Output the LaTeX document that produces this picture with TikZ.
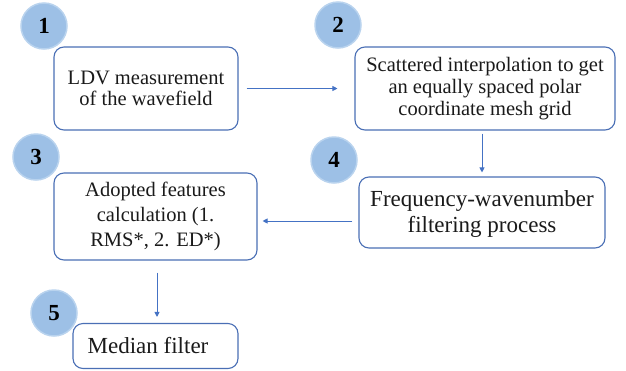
\documentclass[tikz,border=0pt]{standalone}
\usepackage{fontspec}
\setmainfont{Liberation Serif}
\usetikzlibrary{arrows.meta,calc}
\definecolor{boxline}{HTML}{4A6FB5}
\definecolor{arrowc}{HTML}{4472C4}
\definecolor{ballc}{HTML}{9DC0E6}
\definecolor{ballrim}{HTML}{B9D3EE}
\definecolor{txt}{HTML}{1A1A1A}
\begin{document}
\begin{tikzpicture}[x=1pt,y=-1pt,
  stepbox/.style={draw=boxline,line width=1.1pt,rounded corners=10pt,fill=white,
    align=center,inner sep=0pt,text=txt,font=\fontsize{20.5pt}{21.7pt}\selectfont},
  bigtext/.style={font=\fontsize{23pt}{26.5pt}\selectfont},
  numball/.style={circle,minimum size=46pt,inner sep=0pt,fill=ballc,draw=ballrim,line width=1.5pt,
    text=black,font=\fontsize{23pt}{23pt}\selectfont\bfseries},
  conn/.style={draw=arrowc,line width=0.9pt,-{Triangle[length=5pt,width=5pt]}}]
\useasboundingbox (0,0) rectangle (626,370);
\node[stepbox,minimum width=184pt,minimum height=83pt] (b1) at (146,88.5) {LDV measurement\\of the wavefield};
\node[stepbox,minimum width=260pt,minimum height=83pt] (b2) at (485,88.5) {Scattered interpolation to get\\an equally spaced polar\\coordinate mesh grid};
\node[stepbox,bigtext,minimum width=246pt,minimum height=71pt] (b4) at (482,212.5) {\rule{0pt}{0pt}\\[-8pt]Frequency-wavenumber\\filtering process};
\node[stepbox,font=\fontsize{20.5pt}{25pt}\selectfont,minimum width=203pt,minimum height=87pt] (b3) at (155.5,216.5) {Adopted features\\calculation (1.\\RMS*, 2. ED*)};
\node[stepbox,bigtext,minimum width=165pt,minimum height=45pt] (b5) at (155.5,346) {\hspace*{-15pt}Median filter};
\node[numball] (c1) at (44,26) {1};
\node[numball] (c2) at (338,25) {2};
\node[numball] (c3) at (36,157) {3};
\node[numball] (c4) at (334,160) {4};
\node[numball] (c5) at (54,313) {5};
\coordinate (a1s) at ($(b1.east)+(8,0)$);
\coordinate (a1e) at ($(b2.west)+(-17,0)$);
\draw[conn] (a1s) -- (a1e);
\coordinate (a2s) at ($(b4.north |- b2.south)+(0,3)$);
\coordinate (a2e) at ($(b4.north)+(0,-4)$);
\draw[conn] (a2s) -- (a2e);
\coordinate (a3s) at ($(b4.west)+(-6,8.5)$);
\coordinate (a3e) at ($(b3.east |- a3s)+(5,0)$);
\draw[conn] (a3s) -- (a3e);
\coordinate (a4s) at ($(b3.south)+(1.5,12)$);
\coordinate (a4e) at ($(b5.north)+(1.5,-6)$);
\draw[conn] (a4s) -- (a4e);
\end{tikzpicture}
\end{document}
